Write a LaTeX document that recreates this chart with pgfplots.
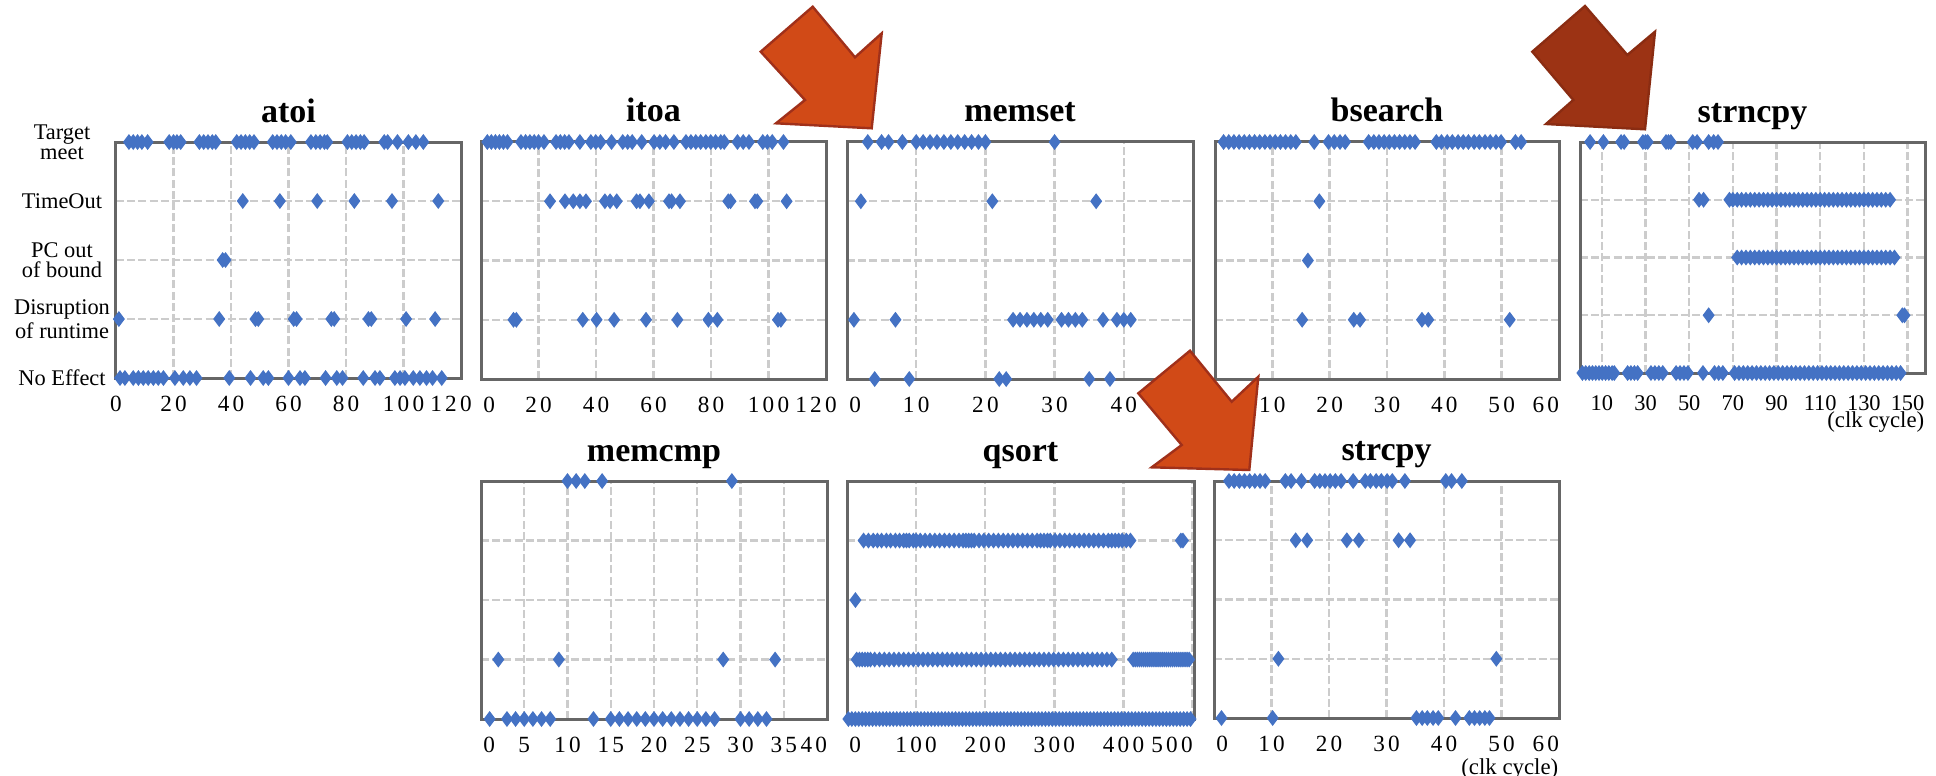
\documentclass[border=0pt]{standalone}
\usepackage{fontspec}
\setmainfont{Liberation Serif}
\newfontfamily\tickfont{Liberation Serif}[LetterSpace=14]
\usepackage{pgfplots}
\pgfplotsset{compat=1.18}
\definecolor{mblue}{HTML}{4472C4}
\definecolor{arrowA}{HTML}{D14A17}
\definecolor{arrowAb}{HTML}{A0301A}
\definecolor{arrowB}{HTML}{9C3314}
\definecolor{arrowBb}{HTML}{8A2C12}
\newcommand{\ptitle}[1]{\node[font=\bfseries\fontsize{8.5}{10}\selectfont, anchor=base, inner sep=0pt] at ([yshift=5pt]rel axis cs:0.5,1) {#1};}
\newcommand{\Lf}[1]{\makebox[0pt][l]{\hspace{0.6pt}#1}}
\newcommand{\Rt}[1]{\makebox[0pt][r]{#1}}
\pgfplotsset{
 panel/.style={
  scale only axis, width=86.25pt, height=59pt,
  anchor=south west,
  ymin=0, ymax=4, ytick={0,1,2,3,4}, yticklabels={},
  clip=false,
  axis line style={draw=black!60, line width=0.75pt},
  xmajorgrids, ymajorgrids,
  major grid style={draw=black!20, line width=0.6pt, dash pattern=on 2pt off 0.8pt},
  major tick length=0pt,
  xticklabel style={font=\tickfont\fontsize{5.8}{6}\selectfont, anchor=base, yshift=-8.25pt, inner sep=0pt},
 },
 dots/.style={only marks, mark=diamond*, mark size=1.75pt, color=mblue, mark options={line width=0.3pt}},
 clk/.style={xlabel={(clk cycle)}, xlabel style={at={(1,0)}, anchor=base east, yshift=-#1, font=\fontsize{5.7}{6}\selectfont, inner sep=0pt}},
}
\begin{document}
\begin{tikzpicture}
\useasboundingbox (0,0) rectangle (484pt,193.75pt);

% atoi
\begin{axis}[panel, at={(29pt,99.25pt)}, width=86.25pt, height=59pt,
  xmin=0, xmax=120, xtick={0,20,...,120},
  xticklabels={0,20,40,60,80,100,{\makebox[0pt]{\hspace{-5pt}120}}},
  yticklabels={No Effect,{Disruption\\of runtime},{PC out\\of bound},TimeOut,{Target\\meet}},
  yticklabel style={font=\fontsize{5.6}{5}\selectfont, align=center, anchor=center, xshift=-13.5pt}]
\addplot[dots] coordinates {(4.5,4)(6,4)(7.5,4)(9,4)(11,4)(18.5,4)(20,4)(21.2,4)(22.5,4)(29,4)(30.5,4)(32,4)(33.5,4)(34.7,4)(42,4)(43.5,4)(45,4)(46.5,4)(48,4)(54.5,4)(56,4)(57.5,4)(59,4)(60.8,4)(67.8,4)(69.5,4)(71,4)(72.5,4)(73.5,4)(80.5,4)(82,4)(83.5,4)(85,4)(86.3,4)(93.3,4)(94.5,4)(97.9,4)(101.7,4)(104.3,4)(106.9,4)};
\addplot[dots] coordinates {(44.1,3)(57,3)(70,3)(82.9,3)(96,3)(112.1,3)};
\addplot[dots] coordinates {(37.1,2)(38.1,2)};
\addplot[dots] coordinates {(1,1)(35.9,1)(48.5,1)(49.5,1)(61.8,1)(62.8,1)(74.9,1)(75.9,1)(87.8,1)(88.8,1)(100.9,1)(111,1)};
\addplot[dots] coordinates {(1.4,0)(3.1,0)(6,0)(7.8,0)(9.5,0)(11.2,0)(13,0)(14.7,0)(16.5,0)(20.5,0)(23.4,0)(25.7,0)(28,0)(39.4,0)(46.8,0)(51.2,0)(53,0)(60,0)(64,0)(65.7,0)(72.9,0)(76.8,0)(78.8,0)(86,0)(90.1,0)(91.8,0)(97,0)(98.8,0)(100.5,0)(103.4,0)(105.7,0)(108,0)(110.1,0)(113.3,0)};
\ptitle{atoi}
\end{axis}

% itoa
\begin{axis}[panel, at={(120.25pt,99pt)}, width=86.25pt, height=59.25pt,
  xmin=0, xmax=120, xtick={0,20,...,120},
  xticklabels={{\Lf{0}},20,40,60,80,100,{\makebox[0pt]{\hspace{-5pt}120}}}]
\addplot[dots] coordinates {(2.2,4)(3.6,4)(5,4)(6.4,4)(7.8,4)(9.2,4)(13.9,4)(15.5,4)(17,4)(18.5,4)(20,4)(21.9,4)(26.1,4)(27.6,4)(29.1,4)(30.6,4)(34.4,4)(38.2,4)(39.9,4)(41.6,4)(45.4,4)(49.3,4)(51,4)(52.6,4)(55.9,4)(60.2,4)(62.2,4)(64.2,4)(67.1,4)(71.3,4)(73,4)(74.7,4)(76.4,4)(78.2,4)(79.9,4)(81.6,4)(83.4,4)(84.6,4)(89.2,4)(91.2,4)(93.2,4)(98,4)(99.6,4)(101.3,4)(105.2,4)};
\addplot[dots] coordinates {(24,3)(29.2,3)(32.1,3)(34.4,3)(36.5,3)(43.1,3)(44.9,3)(47.2,3)(54.1,3)(55.3,3)(58.4,3)(65.4,3)(66.3,3)(69.2,3)(86,3)(86.8,3)(95.3,3)(96.1,3)(106.3,3)};
\addplot[dots] coordinates {(11.3,1)(12.3,1)(35.4,1)(40.2,1)(46.3,1)(57.4,1)(68.3,1)(79.1,1)(82.2,1)(103.3,1)(104.3,1)};
\ptitle{itoa}
\end{axis}

% memset
\begin{axis}[panel, at={(211.75pt,99pt)}, width=86.5pt, height=59.25pt,
  xmin=0, xmax=50, xtick={0,10,...,50},
  xticklabels={{\Lf{0}},10,20,30,40,{\Rt{50}}}]
\addplot[dots] coordinates {(3,4)(5,4)(6,4)(8,4)(10,4)(11,4)(12,4)(13,4)(14,4)(15,4)(16,4)(17,4)(18,4)(19,4)(20,4)(30,4)};
\addplot[dots] coordinates {(2,3)(21,3)(36,3)};
\addplot[dots] coordinates {(1,1)(7,1)(24,1)(25,1)(26,1)(27,1)(28,1)(29,1)(31,1)(32,1)(33,1)(34,1)(37,1)(39,1)(40,1)(41,1)};
\addplot[dots] coordinates {(4,0)(9,0)(22,0)(23,0)(35,0)(38,0)};
\ptitle{memset}
\end{axis}

% bsearch
\begin{axis}[panel, at={(303.75pt,99pt)}, width=86pt, height=59.25pt,
  xmin=0, xmax=60, xtick={0,10,...,60},
  xticklabels={{\Lf{0}},10,20,30,40,50,{\Rt{60}}}]
\addplot[dots] coordinates {(1.5,4)(2.4,4)(3.3,4)(4.2,4)(5.1,4)(6,4)(6.9,4)(7.8,4)(8.7,4)(9.6,4)(10.5,4)(11.4,4)(12.3,4)(13.2,4)(14.1,4)(17.3,4)(19.8,4)(20.8,4)(21.8,4)(22.7,4)(26.8,4)(27.7,4)(28.6,4)(29.5,4)(30.4,4)(31.3,4)(32.2,4)(33.1,4)(34,4)(34.9,4)(38.6,4)(39.5,4)(40.5,4)(41.4,4)(42.4,4)(43.3,4)(44.2,4)(45.2,4)(46.1,4)(47.1,4)(48,4)(49,4)(49.9,4)(52.4,4)(53.4,4)};
\addplot[dots] coordinates {(18.2,3)};
\addplot[dots] coordinates {(16.2,2)};
\addplot[dots] coordinates {(15.2,1)(24.2,1)(25.3,1)(36.1,1)(37.2,1)(51.4,1)};
\ptitle{bsearch}
\end{axis}

% strncpy
\begin{axis}[panel, at={(395pt,100.5pt)}, width=86.25pt, height=57.75pt,
  xmin=0, xmax=158, xtick={10,30,...,150}, clk=13.6pt,
  xticklabels={10,30,50,70,90,110,130,150},
  xticklabel style={font=\fontsize{5.6}{6}\selectfont, yshift=-1pt}]
\addplot[dots] coordinates {(4.6,4)(10.7,4)(18.8,4)(20.2,4)(28.8,4)(30,4)(31,4)(39.4,4)(40.5,4)(41.6,4)(51.6,4)(53.6,4)(58.9,4)(61.2,4)(63.2,4)};
\addplot[dots] coordinates {(54.5,3)(56.6,3)(68.4,3)(70,3)(72,3)(74,3)(76,3)(78,3)(80,3)(82,3)(84,3)(86,3)(88,3)(90,3)(92,3)(94,3)(96,3)(98,3)(100,3)(102,3)(104,3)(106,3)(108,3)(110,3)(112,3)(114,3)(116,3)(118,3)(120,3)(122,3)(124,3)(126,3)(128,3)(130,3)(132,3)(134,3)(136,3)(138,3)(140,3)(142,3)};
\addplot[dots] coordinates {(72,2)(74,2)(76,2)(78,2)(80,2)(82,2)(84,2)(86,2)(88,2)(90,2)(92,2)(94,2)(96,2)(98,2)(100,2)(102,2)(104,2)(106,2)(108,2)(110,2)(112,2)(114,2)(116,2)(118,2)(120,2)(122,2)(124,2)(126,2)(128,2)(130,2)(132,2)(134,2)(136,2)(138,2)(140,2)(142,2)(144,2)};
\addplot[dots] coordinates {(58.9,1)(147.6,1)(148.6,1)};
\addplot[dots] coordinates {(1.1,0)(2.6,0)(4.2,0)(5.7,0)(7.2,0)(8.7,0)(10.2,0)(11.7,0)(13.2,0)(14.7,0)(15.7,0)(21.8,0)(23.3,0)(24.9,0)(26.4,0)(32.5,0)(34.3,0)(36.1,0)(37.9,0)(44,0)(45.8,0)(47.6,0)(49.4,0)(56.3,0)(61.6,0)(63.5,0)(65.4,0)(70.8,0)(72.8,0)(74.8,0)(76.8,0)(78.8,0)(80.8,0)(82.8,0)(84.8,0)(86.8,0)(88.8,0)(90.8,0)(92.8,0)(94.8,0)(96.8,0)(98.8,0)(100.8,0)(102.8,0)(104.8,0)(106.8,0)(108.8,0)(110.8,0)(112.8,0)(114.8,0)(116.8,0)(118.8,0)(120.8,0)(122.8,0)(124.8,0)(126.8,0)(128.8,0)(130.8,0)(132.8,0)(134.8,0)(136.8,0)(138.8,0)(140.8,0)(142.8,0)(144.8,0)(146.8,0)};
\ptitle{strncpy}
\end{axis}

% memcmp
\begin{axis}[panel, at={(120.25pt,14pt)}, width=86.5pt, height=59.5pt,
  xmin=0, xmax=40, xtick={0,5,...,40},
  xticklabels={{\Lf{0}},5,10,15,20,25,30,35,{\Rt{40}}}]
\addplot[dots] coordinates {(10,4)(11,4)(12,4)(14,4)(29,4)};
\addplot[dots] coordinates {(2,1)(9,1)(28,1)(34,1)};
\addplot[dots] coordinates {(1,0)(3,0)(4,0)(5,0)(6,0)(7,0)(8,0)(13,0)(15,0)(16,0)(17,0)(18,0)(19,0)(20,0)(21,0)(22,0)(23,0)(24,0)(25,0)(26,0)(27,0)(30,0)(31,0)(32,0)(33,0)};
\ptitle{memcmp}
\end{axis}

% qsort
\begin{axis}[panel, at={(211.75pt,14pt)}, width=86.75pt, height=59.5pt,
  xmin=0, xmax=502, xtick={0,100,...,500},
  xticklabels={{\Lf{0}},100,200,300,400,{\Rt{500}}}]
\addplot[dots] coordinates {(24,3)(31,3)(38,3)(44,3)(50,3)(57,3)(63,3)(70,3)(76,3)(82,3)(86,3)(90,3)(96,3)(100,3)(106,3)(113,3)(120,3)(127,3)(134,3)(141,3)(148,3)(155,3)(162,3)(168,3)(172,3)(176,3)(180,3)(184,3)(191,3)(198,3)(205,3)(212,3)(219,3)(226,3)(233,3)(240,3)(247,3)(254,3)(261,3)(268,3)(275,3)(280,3)(285,3)(290,3)(294,3)(301,3)(308,3)(315,3)(322,3)(329,3)(336,3)(343,3)(350,3)(357,3)(364,3)(371,3)(378,3)(383,3)(388,3)(393,3)(398,3)(404,3)(410,3)(483,3)(486,3)};
\addplot[dots] coordinates {(12.2,2)};
\addplot[dots] coordinates {(14,1)(18,1)(22,1)(26,1)(30,1)(34,1)(40,1)(47,1)(54,1)(61,1)(68,1)(75,1)(82,1)(89,1)(96,1)(103,1)(110,1)(117,1)(124,1)(131,1)(138,1)(145,1)(152,1)(159,1)(166,1)(173,1)(180,1)(187,1)(194,1)(201,1)(208,1)(215,1)(222,1)(229,1)(236,1)(243,1)(250,1)(257,1)(264,1)(271,1)(278,1)(285,1)(292,1)(299,1)(306,1)(313,1)(320,1)(327,1)(334,1)(341,1)(348,1)(355,1)(362,1)(369,1)(376,1)(383,1)(414,1)(417,1)(420,1)(423,1)(426,1)(429,1)(432,1)(435,1)(438,1)(441,1)(444,1)(447,1)(450,1)(453,1)(456,1)(459,1)(462,1)(465,1)(468,1)(471,1)(474,1)(477,1)(480,1)(483,1)(486,1)(489,1)(492,1)(495,1)};
\addplot[dots] coordinates {(2,0)(7,0)(12,0)(17,0)(22,0)(27,0)(32,0)(37,0)(42,0)(47,0)(52,0)(57,0)(62,0)(67,0)(72,0)(77,0)(82,0)(87,0)(92,0)(97,0)(102,0)(107,0)(112,0)(117,0)(122,0)(127,0)(132,0)(137,0)(142,0)(147,0)(152,0)(157,0)(162,0)(167,0)(172,0)(177,0)(182,0)(187,0)(192,0)(197,0)(202,0)(207,0)(212,0)(217,0)(222,0)(227,0)(232,0)(237,0)(242,0)(247,0)(252,0)(257,0)(262,0)(267,0)(272,0)(277,0)(282,0)(287,0)(292,0)(297,0)(302,0)(307,0)(312,0)(317,0)(322,0)(327,0)(332,0)(337,0)(342,0)(347,0)(352,0)(357,0)(362,0)(367,0)(372,0)(377,0)(382,0)(387,0)(392,0)(397,0)(402,0)(407,0)(412,0)(417,0)(422,0)(427,0)(432,0)(437,0)(442,0)(447,0)(452,0)(457,0)(462,0)(467,0)(472,0)(477,0)(482,0)(487,0)(492,0)(497,0)};
\ptitle{qsort}
\end{axis}

% strcpy
\begin{axis}[panel, at={(303.5pt,14.25pt)}, width=86.25pt, height=59.25pt,
  xmin=0, xmax=60, xtick={0,10,...,60}, clk=14.1pt,
  xticklabels={{\Lf{0}},10,20,30,40,50,{\Rt{60}}}]
\addplot[dots] coordinates {(2.6,4)(3.5,4)(4.4,4)(5.3,4)(6.2,4)(7.1,4)(8,4)(8.9,4)(12.4,4)(13.4,4)(15.2,4)(17.5,4)(18.4,4)(19.3,4)(20.2,4)(21.1,4)(22.1,4)(24.2,4)(26.3,4)(27.2,4)(28.2,4)(29.1,4)(30.1,4)(31,4)(33.2,4)(40.3,4)(41.3,4)(43.1,4)};
\addplot[dots] coordinates {(14.2,3)(16.2,3)(23.1,3)(25.2,3)(32.1,3)(34.1,3)};
\addplot[dots] coordinates {(11.2,1)(49.1,1)};
\addplot[dots] coordinates {(1.3,0)(10.2,0)(35.2,0)(36.2,0)(37.1,0)(38.1,0)(39,0)(42,0)(44.4,0)(45.3,0)(46.2,0)(47.1,0)(47.9,0)};
\ptitle{strcpy}
\end{axis}

% arrows (pixel coordinates, y downward)
\begin{scope}[shift={(0pt,193.75pt)}, x=0.25pt, y=-0.25pt, line width=0.6pt, line join=miter]
\filldraw[fill=arrowA, draw=arrowAb] (812.7,6.7) -- (855,57.3) -- (881.7,33.3) -- (871.7,128.3) -- (776,123.3) -- (805,100) -- (760.7,51.7) -- cycle;
\filldraw[fill=arrowB, draw=arrowBb] (1585,6) -- (1627.3,55) -- (1655,31.7) -- (1645,129.3) -- (1546,124) -- (1573.3,100) -- (1532.3,51.7) -- cycle;
\filldraw[fill=arrowA, draw=arrowAb] (1190,350.7) -- (1231.7,401.7) -- (1258.3,376.7) -- (1249.3,470) -- (1151.7,467.3) -- (1181.7,445) -- (1138.3,393.3) -- cycle;
\end{scope}
\end{tikzpicture}
\end{document}
